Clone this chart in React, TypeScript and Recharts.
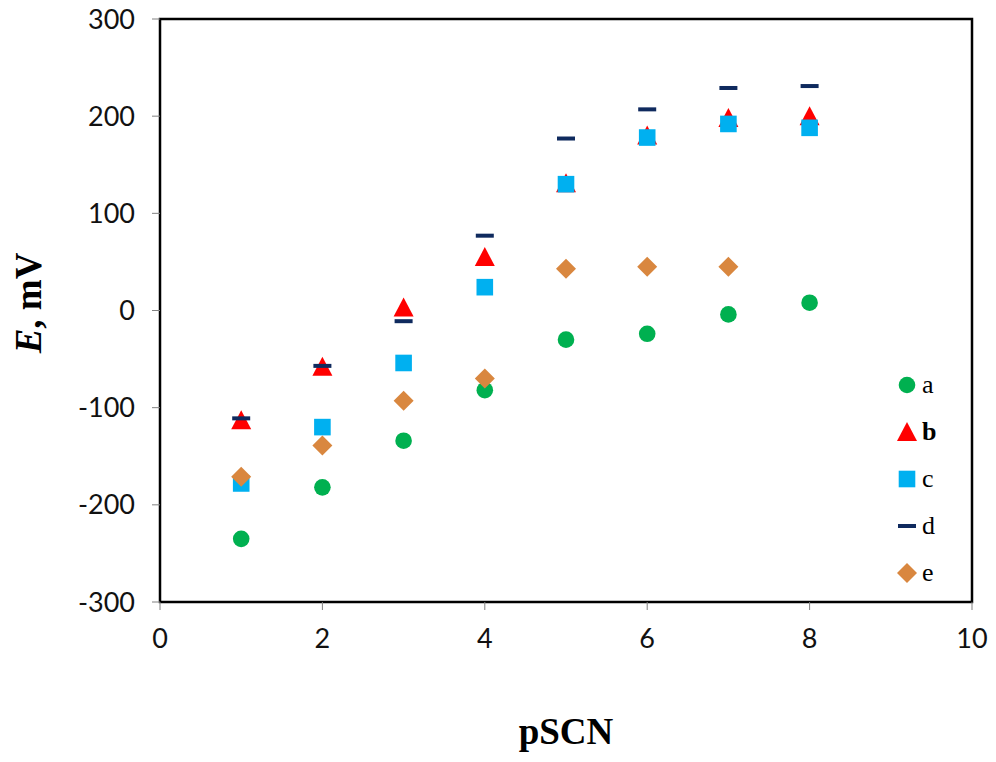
import {
  ScatterChart,
  Scatter,
  XAxis,
  YAxis,
  Legend,
  Label,
  ReferenceArea,
} from 'recharts'

// pSCN values where each electrode was measured
const pSCN = [1, 2, 3, 4, 5, 6, 7, 8]

// Potential readings, mV
const seriesA = [-235, -182, -134, -82, -30, -24, -4, 8]
const seriesB = [-113, -58, 3, 55, 131, 180, 198, 200]
const seriesC = [-178, -120, -54, 24, 130, 178, 192, 188]
const seriesD = [-111, -57, -11, 77, 177, 207, 229, 231]
const seriesE = [-171, -139, -93, -70, 43, 45, 45]

const xTicks = [0, 2, 4, 6, 8, 10]
const yTicks = [-300, -200, -100, 0, 100, 200, 300]

const SERIF = '"Liberation Serif", "Times New Roman", serif'
const SANS = 'Lato, "Open Sans", sans-serif'

const toPoints = (ys: number[]) => ys.map((y, i) => ({ x: pSCN[i], y }))

const COLORS = {
  a: '#00b050',
  b: '#ff0000',
  c: '#00b0f0',
  d: '#0f2a5e',
  e: '#d9873f',
}

type ShapeProps = { cx?: number; cy?: number }

const Dot = ({ cx = 0, cy = 0 }: ShapeProps) => (
  <circle cx={cx} cy={cy} r={8.3} fill={COLORS.a} />
)
const Tri = ({ cx = 0, cy = 0 }: ShapeProps) => (
  <polygon points={`${cx},${cy - 10} ${cx + 10},${cy + 9} ${cx - 10},${cy + 9}`} fill={COLORS.b} />
)
const Sq = ({ cx = 0, cy = 0 }: ShapeProps) => (
  <rect x={cx - 8.3} y={cy - 8.3} width={16.6} height={16.6} fill={COLORS.c} />
)
const Dash = ({ cx = 0, cy = 0 }: ShapeProps) => (
  <rect x={cx - 9} y={cy - 2} width={18} height={4} fill={COLORS.d} />
)
const Diamond = ({ cx = 0, cy = 0 }: ShapeProps) => (
  <polygon points={`${cx},${cy - 10} ${cx + 10},${cy} ${cx},${cy + 10} ${cx - 10},${cy}`} fill={COLORS.e} />
)

const legendItems = [
  { key: 'a', Icon: Dot, bold: false },
  { key: 'b', Icon: Tri, bold: true },
  { key: 'c', Icon: Sq, bold: false },
  { key: 'd', Icon: Dash, bold: false },
  { key: 'e', Icon: Diamond, bold: false },
]

const LegendBox = () => (
  <div style={{ fontFamily: SERIF, fontSize: 26, color: '#000' }}>
    {legendItems.map(({ key, Icon, bold }) => (
      <div key={key} style={{ display: 'flex', alignItems: 'center', height: 47 }}>
        <svg width={22} height={22}>
          <Icon cx={11} cy={11} />
        </svg>
        <span style={{ marginLeft: 4, fontWeight: bold ? 'bold' : 'normal', lineHeight: '26px' }}>
          {key}
        </span>
      </div>
    ))}
  </div>
)

const YTitle = () => {
  const cx = 28
  const cy = 303
  return (
    <text
      x={cx}
      y={cy}
      transform={`rotate(-90, ${cx}, ${cy})`}
      textAnchor="middle"
      dominantBaseline="central"
      fontFamily={SERIF}
      fontSize={37}
      fontWeight="bold"
      fill="#000"
    >
      <tspan fontStyle="italic">E</tspan>
      <tspan>, mV</tspan>
    </text>
  )
}

const tickStyle = { fill: '#111', fontSize: 27, fontFamily: SANS }

export default function App() {
  return (
    <div style={{ position: 'absolute', left: 0, top: 0, background: '#fff' }}>
      <ScatterChart
        width={996}
        height={762}
        margin={{ top: 19, right: 24, left: 0, bottom: 0 }}
      >
        <XAxis
          type="number"
          dataKey="x"
          domain={[0, 10]}
          ticks={xTicks}
          height={160}
          tick={tickStyle}
          tickSize={8}
          tickMargin={19}
          axisLine={{ stroke: '#000', strokeWidth: 2 }}
          tickLine={{ stroke: '#808080' }}
        >
          <Label
            value="pSCN"
            position="insideTop"
            offset={116}
            style={{ fontFamily: SERIF, fontSize: 37, fontWeight: 'bold', fill: '#000' }}
          />
        </XAxis>
        <YAxis
          type="number"
          dataKey="y"
          domain={[-300, 300]}
          ticks={yTicks}
          width={160}
          tick={tickStyle}
          tickSize={8}
          tickMargin={17}
          axisLine={{ stroke: '#000', strokeWidth: 2 }}
          tickLine={{ stroke: '#808080' }}
        >
          <Label content={<YTitle />} />
        </YAxis>
        {/* plot frame */}
        <ReferenceArea
          x1={0}
          x2={10}
          y1={-300}
          y2={300}
          fill="none"
          fillOpacity={0}
          stroke="#000"
          strokeWidth={2.5}
          strokeOpacity={1}
        />
        <Legend
          layout="vertical"
          align="center"
          verticalAlign="middle"
          content={<LegendBox />}
          wrapperStyle={{ left: 896, top: 361, width: 80 }}
        />
        <Scatter name="a" data={toPoints(seriesA)} shape={<Dot />} isAnimationActive={false} />
        <Scatter name="b" data={toPoints(seriesB)} shape={<Tri />} isAnimationActive={false} />
        <Scatter name="c" data={toPoints(seriesC)} shape={<Sq />} isAnimationActive={false} />
        <Scatter name="d" data={toPoints(seriesD)} shape={<Dash />} isAnimationActive={false} />
        <Scatter name="e" data={toPoints(seriesE)} shape={<Diamond />} isAnimationActive={false} />
      </ScatterChart>
    </div>
  )
}
